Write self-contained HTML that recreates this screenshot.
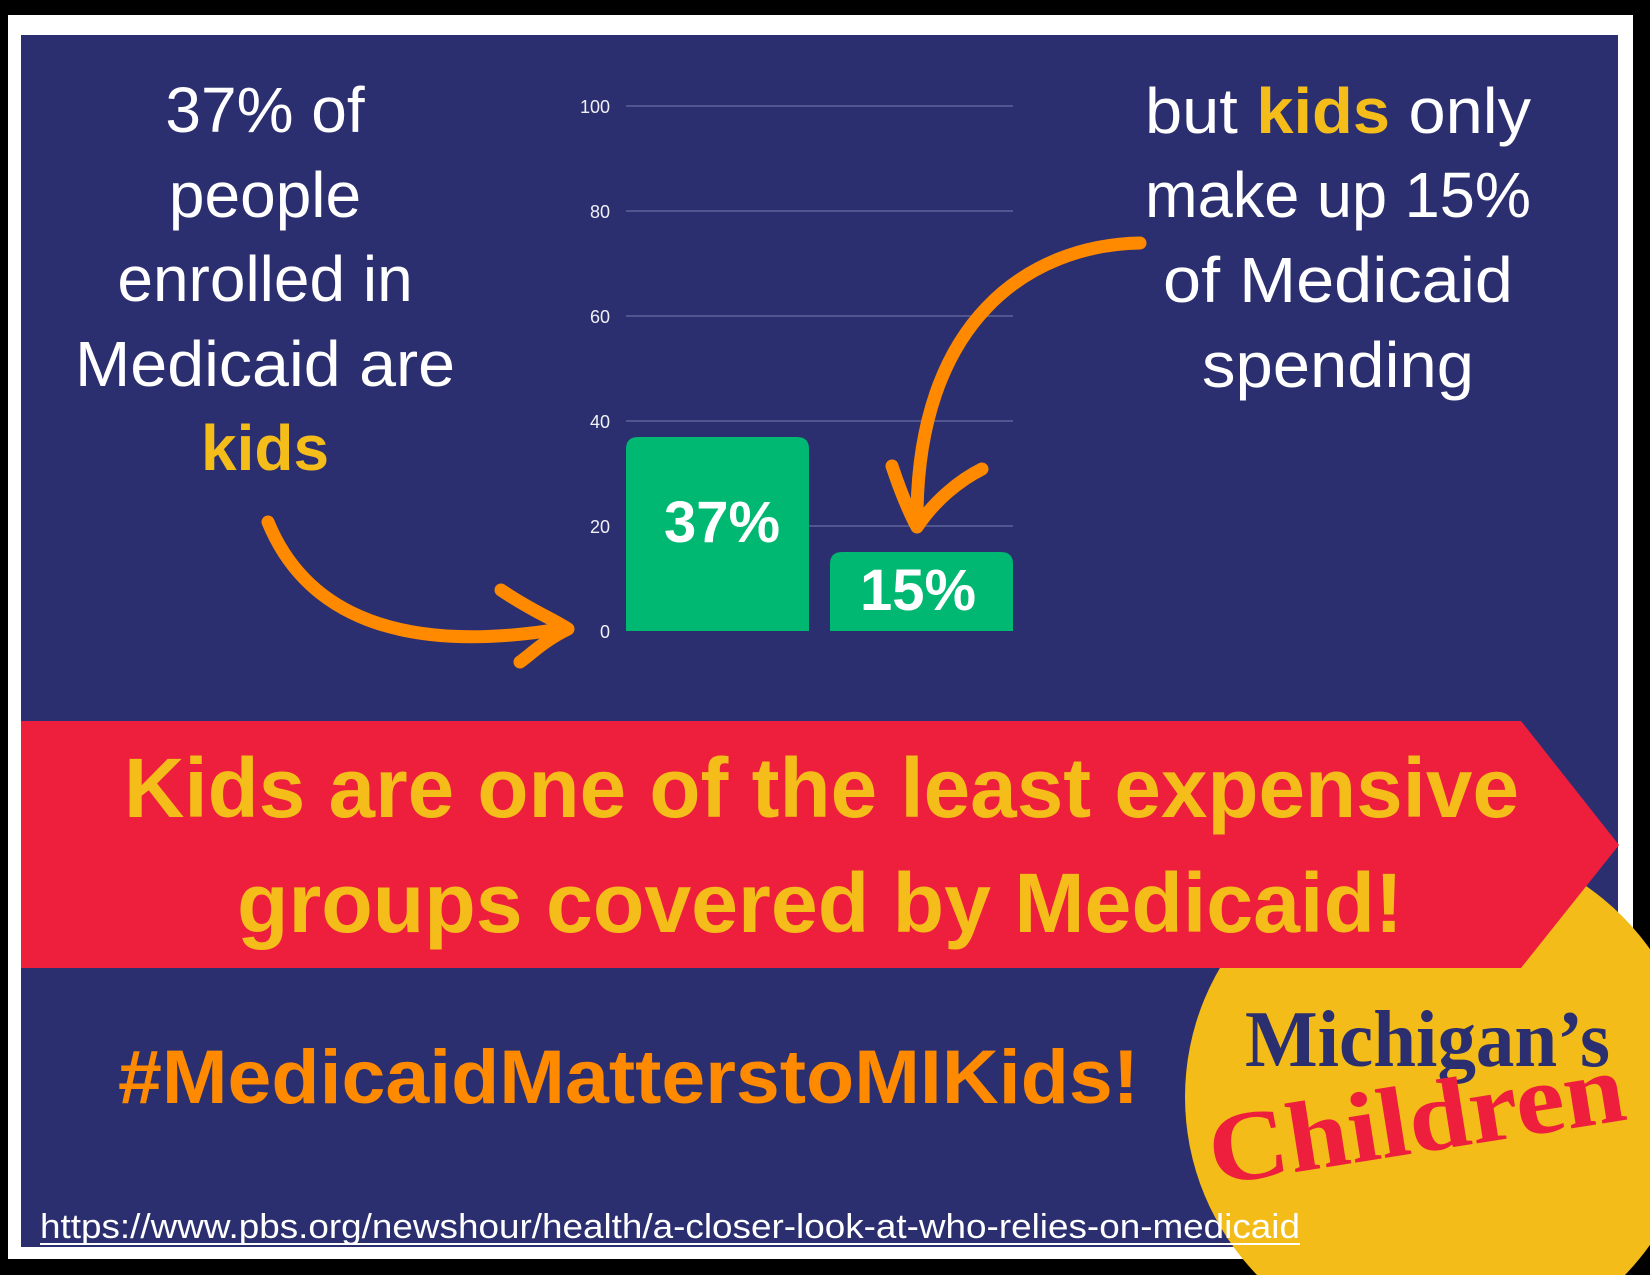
<!DOCTYPE html>
<html><head><meta charset="utf-8"><style>
html,body{margin:0;padding:0;background:#000;width:1650px;height:1275px;overflow:hidden;}
svg{display:block;}
</style></head><body>
<svg width="1650" height="1275" viewBox="0 0 1650 1275" xmlns="http://www.w3.org/2000/svg">
<rect x="0" y="0" width="1650" height="1275" fill="#000"/>
<rect x="8" y="15" width="1625" height="1244" fill="#fff"/>
<rect x="21" y="35" width="1597" height="1212" fill="#2c2f6f"/>

<g stroke="#5f6398" stroke-width="1.5">
<line x1="626" y1="106" x2="1013" y2="106"/>
<line x1="626" y1="211" x2="1013" y2="211"/>
<line x1="626" y1="316" x2="1013" y2="316"/>
<line x1="626" y1="421" x2="1013" y2="421"/>
<line x1="626" y1="526" x2="1013" y2="526"/>
</g>
<g font-family="Liberation Sans, sans-serif" font-size="18" fill="#f0f0f5" text-anchor="end">
<text x="610" y="113">100</text>
<text x="610" y="218">80</text>
<text x="610" y="323">60</text>
<text x="610" y="428">40</text>
<text x="610" y="533">20</text>
<text x="610" y="638">0</text>
</g>
<path d="M626 631 V449 Q626 437 638 437 H797 Q809 437 809 449 V631 Z" fill="#00b872"/>
<path d="M830 631 V564 Q830 552 842 552 H1001 Q1013 552 1013 564 V631 Z" fill="#00b872"/>
<g font-family="Liberation Sans, sans-serif" font-weight="bold" font-size="58" fill="#fff" text-anchor="middle">
<text x="722" y="542">37%</text>
<text x="918" y="610">15%</text>
</g>

<g font-family="Liberation Sans, sans-serif" font-size="64" fill="#fff" text-anchor="middle">
<text x="265" y="132">37% of</text>
<text x="265" y="217">people</text>
<text x="265" y="301">enrolled in</text>
<text x="265" y="386" textLength="380" lengthAdjust="spacingAndGlyphs">Medicaid are</text>
<text x="265" y="470" font-weight="bold" fill="#f4bd1a">kids</text>
</g>
<g font-family="Liberation Sans, sans-serif" font-size="64" fill="#fff" text-anchor="middle">
<text x="1338" y="133" textLength="386" lengthAdjust="spacingAndGlyphs">but <tspan font-weight="bold" fill="#f4bd1a">kids</tspan> only</text>
<text x="1338" y="217" textLength="386" lengthAdjust="spacingAndGlyphs">make up 15%</text>
<text x="1338" y="302" textLength="350" lengthAdjust="spacingAndGlyphs">of Medicaid</text>
<text x="1338" y="387" textLength="272" lengthAdjust="spacingAndGlyphs">spending</text>
</g>

<g fill="none" stroke="#ff8a00" stroke-width="13" stroke-linecap="round" stroke-linejoin="round">
<path d="M268 522 C 300 600, 380 660, 566 628"/>
<path d="M501 590 C 530 610, 555 620, 568 629 C 545 640, 530 655, 520 662"/>
<path d="M1140 243 C 1030 245, 915 320, 917 524"/>
<path d="M892 466 C 900 490, 908 510, 917 527 C 935 500, 960 480, 982 469"/>
</g>

<circle cx="1441" cy="1097" r="256" fill="#f3bc19"/>

<polygon points="21,721 1521,721 1619,845 1521,968 21,968" fill="#ed1f3d"/>
<g font-family="Liberation Sans, sans-serif" font-weight="bold" font-size="84" fill="#f4bd1a">
<text x="124" y="817" textLength="1395" lengthAdjust="spacingAndGlyphs">Kids are one of the least expensive</text>
<text x="237" y="932" textLength="1166" lengthAdjust="spacingAndGlyphs">groups covered by Medicaid!</text>
</g>

<text x="118" y="1103" font-family="Liberation Sans, sans-serif" font-weight="bold" font-size="76" fill="#ff8a00" textLength="1021" lengthAdjust="spacingAndGlyphs">#MedicaidMatterstoMIKids!</text>

<text x="40" y="1238" font-family="Liberation Sans, sans-serif" font-size="34" fill="#fff" textLength="1260" lengthAdjust="spacingAndGlyphs">https://www.pbs.org/newshour/health/a-closer-look-at-who-relies-on-medicaid</text>
<line x1="40" y1="1244" x2="1300" y2="1244" stroke="#fff" stroke-width="2"/>

<text x="1245" y="1066" font-family="Liberation Serif, serif" font-weight="bold" font-size="80" fill="#2c2f6f" textLength="365" lengthAdjust="spacingAndGlyphs">Michigan’s</text>
<text x="1214" y="1185" font-family="Liberation Serif, serif" font-weight="bold" font-size="100" fill="#ed1f3d" textLength="420" lengthAdjust="spacingAndGlyphs" transform="rotate(-9 1214 1185)">Children</text>
</svg>
</body></html>
